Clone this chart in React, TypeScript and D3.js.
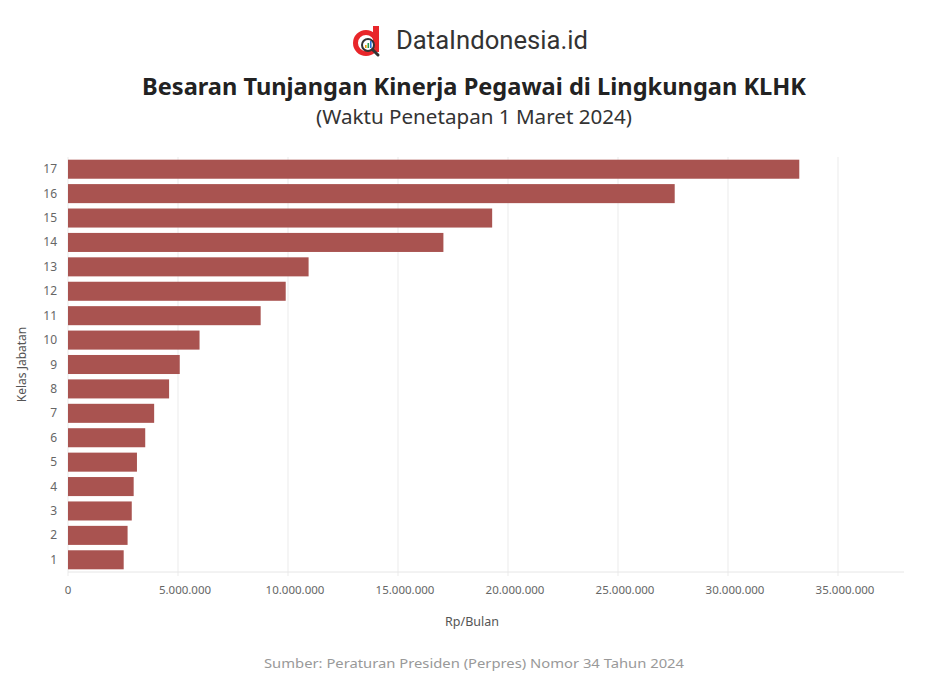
import React from "react";
import * as d3 from "d3";

const classes = ["17","16","15","14","13","12","11","10","9","8","7","6","5","4","3","2","1"];
const values = [33240000,27577500,19280000,17064000,10936000,9896000,8757600,5979200,5079200,4595150,3915950,3510400,3134250,2985000,2898000,2708250,2531250];
const xTicks = [0,5000000,10000000,15000000,20000000,25000000,30000000,35000000];

const title = "Besaran Tunjangan Kinerja Pegawai di Lingkungan KLHK";
const subtitle = "(Waktu Penetapan 1 Maret 2024)";
const yTitle = "Kelas Jabatan";
const xTitle = "Rp/Bulan";
const source = "Sumber: Peraturan Presiden (Perpres) Nomor 34 Tahun 2024";

const W = 937, H = 676;
const left = 68, right = 904, top = 157, bottom = 572;
const font = "'Source Sans Pro','Noto Sans','Open Sans',sans-serif";

export default function App() {
  const x = d3.scaleLinear().domain([0, 38000000]).range([left, right]);
  const y = d3.scaleBand().domain(classes).range([top, bottom]).paddingInner(0.22).paddingOuter(0.11);
  const fmt = (v: number) => v === 0 ? "0" : d3.format(",")(v).replace(/,/g, ".");
  return (
    <svg width={W} height={H} style={{ position: "absolute", left: 0, top: 0, background: "#fff" }}>
      <rect width={W} height={H} fill="#fff" />
      {/* logo */}
      <g>
        <circle cx={366} cy={43} r={10.5} fill="none" stroke="#e8262a" strokeWidth={5} />
        <rect x={373} y={26} width={6} height={26} fill="#e8262a" />
        <circle cx={368} cy={45} r={6} fill="#fff" stroke="#333" strokeWidth={2} />
        <rect x={365} y={45} width={1.6} height={3} fill="#f2a000" />
        <rect x={367.5} y={43} width={1.6} height={5} fill="#2a9d4a" />
        <rect x={370} y={41} width={1.6} height={7} fill="#2a6fd6" />
        <line x1={372.5} y1={49.5} x2={378} y2={55} stroke="#333" strokeWidth={3} strokeLinecap="round" />
      </g>
      <text x={396} y={49} fontFamily="Roboto, sans-serif" fontSize={25} fill="#333" textLength={192} lengthAdjust="spacingAndGlyphs">DataIndonesia.id</text>
      <text x={474} y={95} textAnchor="middle" fontFamily={font} fontWeight="bold" fontSize={23} fill="#222" textLength={664} lengthAdjust="spacingAndGlyphs">{title}</text>
      <text x={474} y={124} textAnchor="middle" fontFamily={font} fontSize={19} fill="#333" textLength={316} lengthAdjust="spacingAndGlyphs">{subtitle}</text>
      {/* grid */}
      {xTicks.map(t => (
        <line key={t} x1={x(t)} x2={x(t)} y1={top} y2={bottom + 4} stroke="#ebebeb" strokeWidth={1} />
      ))}
      <line x1={left} x2={right} y1={bottom} y2={bottom} stroke="#e6e6e6" />
      {/* bars */}
      {classes.map((c, i) => (
        <rect key={c} x={x(0)} y={y(c)!} width={x(values[i]) - x(0)} height={y.bandwidth()} fill="#a95350" />
      ))}
      {/* y labels */}
      {classes.map(c => (
        <text key={c} x={57} y={y(c)! + y.bandwidth() / 2 + 4} textAnchor="end" fontFamily={font} fontSize={12} fill="#666">{c}</text>
      ))}
      <text transform={`translate(26,${(top + bottom) / 2}) rotate(-90)`} textAnchor="middle" fontFamily={font} fontSize={12} fill="#555">{yTitle}</text>
      {/* x labels */}
      {xTicks.map(t => (
        <text key={t} x={x(t) + (t === 0 ? 0 : 7)} y={594} textAnchor="middle" fontFamily={font} fontSize={11.5} fill="#666">{fmt(t)}</text>
      ))}
      <text x={472} y={626} textAnchor="middle" fontFamily={font} fontSize={12.5} fill="#555">{xTitle}</text>
      <text x={474} y={668} textAnchor="middle" fontFamily={font} fontSize={13} fill="#999" textLength={420} lengthAdjust="spacingAndGlyphs">{source}</text>
    </svg>
  );
}
